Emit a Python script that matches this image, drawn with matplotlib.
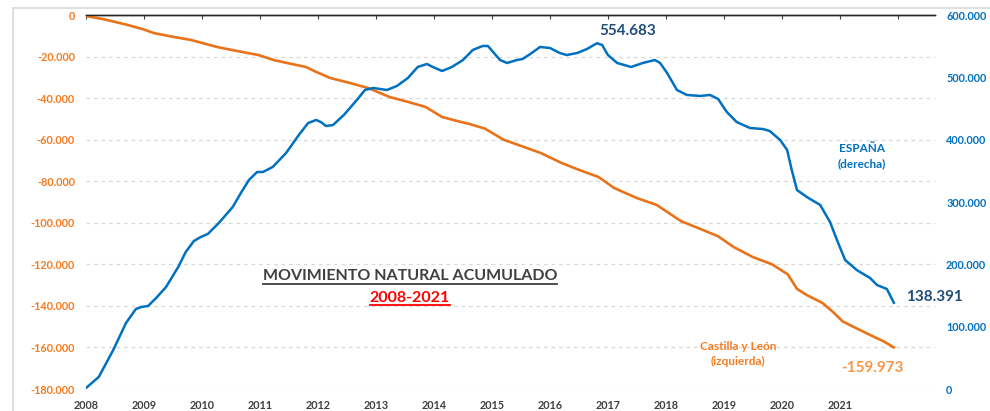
import matplotlib
matplotlib.use("Agg")
import matplotlib.pyplot as plt
from matplotlib.lines import Line2D
from matplotlib.patches import Rectangle
from matplotlib.ticker import FuncFormatter

plt.rcParams["font.family"] = ["Lato", "DejaVu Sans"]

# --- data (cumulative natural movement) ---
years = list(range(2008, 2022))

# España, right axis
esp_t = [2008.0, 2008.22, 2008.47, 2008.69, 2008.86, 2008.95, 2009.07, 2009.21, 2009.38,
         2009.59, 2009.72, 2009.86, 2009.98, 2010.1, 2010.29, 2010.53, 2010.67, 2010.81,
         2010.95, 2011.05, 2011.22, 2011.45, 2011.67, 2011.83, 2011.97, 2012.05, 2012.14,
         2012.26, 2012.45, 2012.67, 2012.81, 2012.95, 2013.19, 2013.36, 2013.55, 2013.72,
         2013.88, 2013.98, 2014.14, 2014.31, 2014.5, 2014.67, 2014.84, 2014.93, 2015.02,
         2015.14, 2015.26, 2015.43, 2015.53, 2015.66, 2015.83, 2016.0, 2016.17, 2016.29,
         2016.47, 2016.64, 2016.81, 2016.9, 2017.0, 2017.16, 2017.4, 2017.6, 2017.81,
         2017.9, 2018.02, 2018.19, 2018.36, 2018.59, 2018.76, 2018.9, 2019.05, 2019.22,
         2019.45, 2019.67, 2019.79, 2019.97, 2020.09, 2020.17, 2020.26, 2020.43, 2020.66,
         2020.83, 2020.95, 2021.09, 2021.29, 2021.52, 2021.64, 2021.81, 2021.93]
esp_v = [1600, 19300, 62600, 106000, 128300, 131500, 133200, 146000, 163600,
         195700, 219800, 237400, 243900, 248700, 266300, 292000, 314400, 335300,
         348100, 348100, 356200, 378600, 407500, 426700, 431600, 428300, 421900,
         423500, 440000, 463600, 479700, 482900, 479700, 486100, 498900, 516600,
         521400, 516600, 510200, 516600, 527800, 543900, 550300, 550300, 540600,
         527800, 523000, 527800, 529400, 537400, 548700, 547100, 539000, 535800,
         539000, 545500, 554683, 551900, 535800, 523000, 516600, 523000, 527800,
         523000, 507000, 479700, 471700, 470100, 471700, 465200, 444400, 428300,
         418700, 417100, 413900, 399500, 383400, 351300, 319200, 308000, 295200,
         267900, 239000, 207000, 190900, 178100, 166800, 160400, 138391]

# Castilla y León, left axis
cyl_t = [2008.0, 2008.3, 2008.72, 2009.0, 2009.17, 2009.5, 2009.81, 2010.26, 2010.6,
         2010.98, 2011.24, 2011.5, 2011.79, 2011.97, 2012.21, 2012.55, 2012.86, 2013.24,
         2013.55, 2013.86, 2014.14, 2014.4, 2014.62, 2014.88, 2015.2, 2015.5, 2015.84,
         2016.2, 2016.5, 2016.84, 2017.11, 2017.5, 2017.84, 2018.26, 2018.64, 2018.9,
         2019.17, 2019.5, 2019.83, 2020.1, 2020.26, 2020.43, 2020.7, 2020.88, 2021.05,
         2021.3, 2021.52, 2021.75, 2021.93]
cyl_v = [-500, -2000, -4800, -7000, -8700, -10500, -12000, -15400, -17300,
         -19300, -21700, -23300, -25000, -27400, -30300, -32700, -35100, -39500,
         -41800, -44300, -49100, -51000, -52500, -54700, -60000, -63000, -66400,
         -71200, -74500, -78000, -83300, -88100, -91400, -99200, -103500, -106500,
         -111700, -116500, -120000, -124800, -131800, -134800, -138600, -142900, -147500,
         -151000, -154000, -157000, -159973]

left_ticks = list(range(-180000, 1, 20000))
right_ticks = list(range(0, 600001, 100000))

ORANGE = "#E8731A"
ORANGE_LBL = "#F47B20"
BLUE = "#0070C0"
NAVY = "#1F4E79"


def miles(v, _pos=None):
    return f"{int(v):,}".replace(",", ".")


fig = plt.figure(figsize=(9.9, 4.11), dpi=100, facecolor="white")
fig.patches.append(Rectangle((13 / 990, -0.1), 1.2, 1 - 8 / 411 + 0.1,
                             transform=fig.transFigure, fill=False,
                             edgecolor="#D9D9D9", linewidth=1.2))

ax = fig.add_axes([86 / 990, 1 - 389 / 411, 849 / 990, 374 / 411])
ax2 = ax.twinx()

ax.plot(cyl_t, cyl_v, color=ORANGE, linewidth=1.9, solid_joinstyle="round", zorder=3)
ax2.plot(esp_t, esp_v, color=BLUE, linewidth=1.8, solid_joinstyle="round", zorder=3)

ax.set_xlim(2008, 2022.64)
ax.set_ylim(-180000, 0)
ax2.set_ylim(0, 600000)

ax.set_yticks(left_ticks)
ax.yaxis.set_major_formatter(FuncFormatter(miles))
ax2.set_yticks(right_ticks)
ax2.yaxis.set_major_formatter(FuncFormatter(miles))
ax.set_xticks(years + [2022])
ax.set_xticklabels([str(y) for y in years] + [""])

ax.grid(axis="y", color="#D9D9D9", linestyle=(0, (3, 3)), linewidth=0.9)
ax.set_axisbelow(True)

for a in (ax, ax2):
    for s in ("left", "right", "bottom"):
        a.spines[s].set_visible(False)
    a.spines["top"].set_color("#262626")
    a.spines["top"].set_linewidth(1.0)

ax.tick_params(axis="x", top=True, bottom=False, direction="in", length=3,
               color="#404040", labelsize=7.8, labelcolor="#404040", pad=8)
ax.tick_params(axis="y", length=0, labelsize=7.8, labelcolor=ORANGE_LBL, pad=8)
ax2.tick_params(axis="y", length=0, labelsize=7.8, labelcolor=BLUE, pad=8)
for lbl in ax.get_xticklabels() + ax.get_yticklabels() + ax2.get_yticklabels():
    lbl.set_fontweight("bold")

# annotations
i_max = esp_v.index(max(esp_v))
ax2.annotate(miles(esp_v[i_max]), xy=(esp_t[i_max], esp_v[i_max]), xytext=(22, 9),
             textcoords="offset points", ha="center", va="center",
             fontsize=11, fontweight="bold", color=NAVY)
ax2.annotate(miles(esp_v[-1]), xy=(esp_t[-1], esp_v[-1]), xytext=(9, 4),
             textcoords="offset points", ha="left", va="center",
             fontsize=11, fontweight="bold", color=NAVY)
ax.annotate(miles(cyl_v[-1]), xy=(cyl_t[-1], cyl_v[-1]), xytext=(-15.5, -15),
            textcoords="offset points", ha="center", va="center",
            fontsize=11, fontweight="bold", color="#F79646")

fig.text(862 / 990, 1 - 156 / 411, "ESPAÑA\n(derecha)", ha="center", va="center",
         fontsize=8.5, fontweight="bold", color=BLUE, linespacing=1.45)
fig.text(738 / 990, 1 - 354 / 411, "Castilla y León\n(izquierda)", ha="center",
         va="center", fontsize=8.5, fontweight="bold", color=ORANGE_LBL, linespacing=1.45)

t1 = fig.text(410 / 990, 1 - 276 / 411, "MOVIMIENTO NATURAL ACUMULADO", ha="center",
              va="center", fontsize=11.5, fontweight="bold", color="#404040")
t2 = fig.text(410 / 990, 1 - 298 / 411, "2008-2021", ha="center", va="center",
              fontsize=11.5, fontweight="bold", color="#FF0000")

# underline the title texts
fig.canvas.draw()
inv = fig.transFigure.inverted()
for t, y_px in ((t1, 284), (t2, 305)):
    bb = t.get_window_extent().transformed(inv)
    y = 1 - y_px / 411
    fig.add_artist(Line2D([bb.x0, bb.x1], [y, y], transform=fig.transFigure,
                          color=t.get_color(), linewidth=1.3))

fig.savefig("out.png", dpi=100, facecolor="white")
